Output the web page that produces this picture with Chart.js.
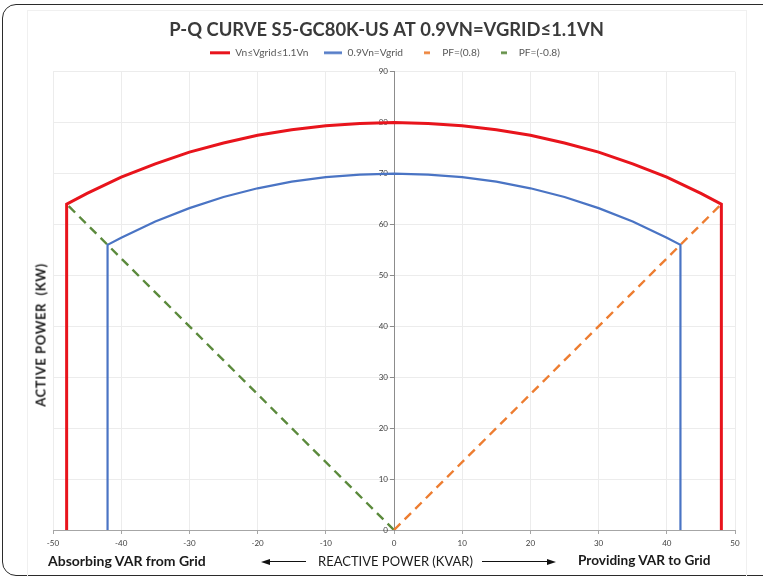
<!DOCTYPE html>
<html>
<head>
<meta charset="utf-8">
<script src="https://cdn.jsdelivr.net/npm/chart.js@4.4.1/dist/chart.umd.min.js"></script>
<style>
  html, body { margin:0; padding:0; background:#fff; }
  body { width:763px; height:577px; overflow:hidden; position:relative; font-family: Lato, "Open Sans", sans-serif; }
  #frame { position:absolute; left:2px; top:4px; width:790px; height:572px; border:1.6px solid #2b2b2b; border-radius:14px; box-sizing:border-box; }
  #inner { position:absolute; left:27px; top:10px; width:720px; height:600px; border:1px solid #f0f0f0; box-sizing:border-box; }
  #wrap { position:absolute; left:0; top:0; width:763px; height:577px; }
  .lbl { position:absolute; color:#1a1a1a; white-space:nowrap; line-height:1; }
  .arrow { position:absolute; height:0; border-top:1.6px solid #111; }
  .headL { position:absolute; width:0; height:0; border-top:3.5px solid transparent; border-bottom:3.5px solid transparent; border-right:9px solid #111; }
  .headR { position:absolute; width:0; height:0; border-top:3.5px solid transparent; border-bottom:3.5px solid transparent; border-left:9px solid #111; }
</style>
</head>
<body>
<div id="frame"></div>
<div id="inner"></div>
<div id="wrap"><canvas id="c" width="763" height="577"></canvas></div>

<div class="lbl" id="ytitle" style="left:41px;top:335px;font-weight:700;font-size:13px;letter-spacing:0.6px;transform:translate(-50%,-50%) rotate(-90deg);">ACTIVE POWER&nbsp; (KW)</div>
<div class="lbl" style="left:48px;top:554px;font-weight:700;font-size:14px;">Absorbing VAR from Grid</div>
<div class="lbl" style="left:318px;top:555px;font-weight:400;font-size:13px;">REACTIVE POWER (KVAR)</div>
<div class="lbl" style="left:578px;top:554px;font-weight:700;font-size:13.6px;">Providing VAR to Grid</div>
<div class="arrow" style="left:268px;top:561px;width:38px;"></div>
<div class="headL" style="left:261px;top:558.5px;"></div>
<div class="arrow" style="left:482px;top:561px;width:66px;"></div>
<div class="headR" style="left:547px;top:558.5px;"></div>

<script>
// ---- Data ----
const seriesNames = ["Vn\u2264Vgrid\u22641.1Vn", "0.9Vn=Vgrid", "PF=(0.8)", "PF=(-0.8)"];

// Vn <= Vgrid <= 1.1Vn  (reactive kVAR, active kW)
const redQ = [-48, -48, -45, -40, -35, -30, -25, -20, -15, -10, -5, 0, 5, 10, 15, 20, 25, 30, 35, 40, 45, 48, 48];
const redP = [0, 64, 66.1, 69.3, 71.9, 74.2, 76.0, 77.5, 78.6, 79.4, 79.8, 80, 79.8, 79.4, 78.6, 77.5, 76.0, 74.2, 71.9, 69.3, 66.1, 64, 0];

// 0.9Vn = Vgrid
const blueQ = [-42, -42, -40, -35, -30, -25, -20, -15, -10, -5, 0, 5, 10, 15, 20, 25, 30, 35, 40, 42, 42];
const blueP = [0, 56, 57.4, 60.6, 63.2, 65.4, 67.1, 68.4, 69.3, 69.8, 70, 69.8, 69.3, 68.4, 67.1, 65.4, 63.2, 60.6, 57.4, 56, 0];

// PF = 0.8
const pfPosQ = [0, 48];
const pfPosP = [0, 64];
// PF = -0.8
const pfNegQ = [0, -48];
const pfNegP = [0, 64];

// Axis ticks
const xTicks = [-50, -40, -30, -20, -10, 0, 10, 20, 30, 40, 50];
const yTicks = [0, 10, 20, 30, 40, 50, 60, 70, 80, 90];

// ---- build ----
const pts = (qs, ps) => qs.map((q, i) => ({ x: q, y: ps[i] }));
const colors = ['#e8141c', '#4a74c4', '#ed7d31', '#5b8a3c'];

function lineImg(color, w, lw) {
  const c = document.createElement('canvas');
  c.width = w; c.height = Math.ceil(lw) + 2;
  const x = c.getContext('2d');
  x.strokeStyle = color; x.lineWidth = lw;
  x.beginPath(); x.moveTo(0, c.height / 2); x.lineTo(w, c.height / 2); x.stroke();
  return c;
}
const legendImgs = [lineImg(colors[0], 20, 3), lineImg(colors[1], 18, 2.5), lineImg(colors[2], 6, 2.5), lineImg(colors[3], 6, 2.5)];

const datasets = [
  { label: seriesNames[0], data: pts(redQ, redP), borderColor: colors[0], borderWidth: 3 },
  { label: seriesNames[1], data: pts(blueQ, blueP), borderColor: colors[1], borderWidth: 2.2 },
  { label: seriesNames[2], data: pts(pfPosQ, pfPosP), borderColor: colors[2], borderWidth: 2.4, borderDash: [9, 6] },
  { label: seriesNames[3], data: pts(pfNegQ, pfNegP), borderColor: colors[3], borderWidth: 2.4, borderDash: [9, 6] }
].map(d => Object.assign({ showLine: true, pointRadius: 0, pointHoverRadius: 0, tension: 0, fill: false, backgroundColor: d.borderColor }, d));

// fixes the heights of the title / legend blocks and their horizontal centre
const boxFix = {
  id: 'boxFix',
  afterInit(chart) {
    const lg = chart.legend;
    const lf = lg.fit.bind(lg);
    lg.fit = function () { lf(); this.height = 38; };
  },
  afterLayout(chart) {
    chart.titleBlock.left = 38;
    chart.legend.left = 35;
  }
};

new Chart(document.getElementById('c'), {
  type: 'scatter',
  data: { datasets },
  plugins: [boxFix],
  options: {
    responsive: false,
    animation: false,
    devicePixelRatio: 1,
    layout: { padding: { left: 53, right: 28, top: 0, bottom: 27 } },
    plugins: {
      title: {
        display: true,
        text: 'P-Q CURVE S5-GC80K-US AT 0.9VN=VGRID\u22641.1VN',
        color: '#3a3a3a',
        font: { family: 'Lato', size: 18.4, weight: 'bold' },
        padding: { top: 19, bottom: -7.4 }
      },
      legend: {
        display: true,
        labels: {
          usePointStyle: true,
          pointStyleWidth: 20,
          padding: 14,
          color: '#595959',
          font: { family: 'Lato', size: 10.2 },
          generateLabels: (chart) => chart.data.datasets.map((ds, i) => ({
            text: ds.label, pointStyle: legendImgs[i], fillStyle: 'rgba(0,0,0,0)', strokeStyle: 'rgba(0,0,0,0)',
            lineWidth: 0, hidden: false, datasetIndex: i, fontColor: '#595959'
          }))
        }
      },
      tooltip: { enabled: false }
    },
    scales: {
      x: {
        type: 'linear',
        min: xTicks[0], max: xTicks[xTicks.length - 1],
        afterBuildTicks: (s) => { s.ticks = xTicks.map(v => ({ value: v })); },
        afterFit: (s) => { s.height = 20; },
        grid: { color: '#ececec', tickColor: '#a6a6a6', tickLength: 4, drawTicks: true },
        border: { color: '#a6a6a6', width: 1 },
        ticks: { color: '#404040', font: { family: 'Lato', size: 8 }, padding: 5, maxRotation: 0 }
      },
      y: {
        type: 'linear',
        position: { x: 0 },
        min: yTicks[0], max: yTicks[yTicks.length - 1],
        afterBuildTicks: (s) => { s.ticks = yTicks.map(v => ({ value: v })); },
        grid: { color: '#ececec', tickColor: '#8c8c8c', tickLength: 4, drawTicks: true },
        border: { color: '#8c8c8c', width: 1 },
        ticks: { color: '#404040', font: { family: 'Lato', size: 8 }, callback: (v) => v + '\u2002\u2009\u2009' }
      }
    }
  }
});
</script>
</body>
</html>
